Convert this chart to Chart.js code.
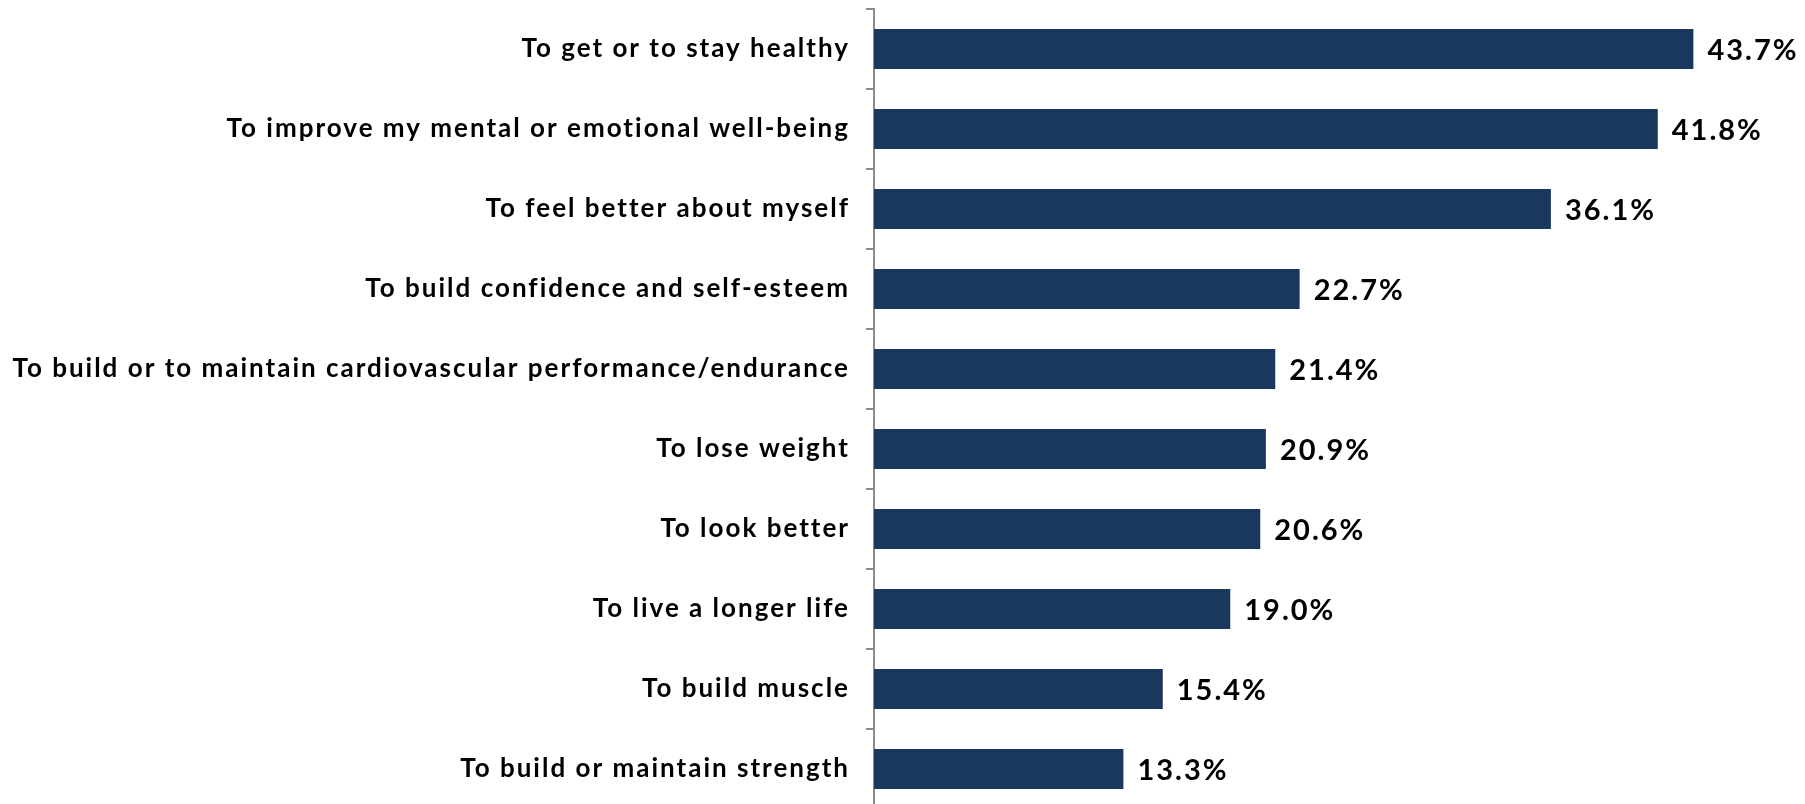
<!DOCTYPE html>
<html>
<head>
<meta charset="utf-8">
<script src="https://cdn.jsdelivr.net/npm/chart.js@4.4.1/dist/chart.umd.min.js"></script>
<style>
  html, body { margin: 0; padding: 0; background: #fff; overflow: hidden; }
  #wrap { width: 1805px; height: 812px; }
</style>
</head>
<body>
<div id="wrap"><canvas id="chart" width="1805" height="812"></canvas></div>
<script>
const reasons = [
  'To get or to stay healthy',
  'To improve my mental or emotional well-being',
  'To feel better about myself',
  'To build confidence and self-esteem',
  'To build or to maintain cardiovascular performance/endurance',
  'To lose weight',
  'To look better',
  'To live a longer life',
  'To build muscle',
  'To build or maintain strength'
];
const shares = [43.7, 41.8, 36.1, 22.7, 21.4, 20.9, 20.6, 19.0, 15.4, 13.3];

const labelFont = 'Lato, "DejaVu Sans", sans-serif';

// a bit of tracking on all text, the labels are set wide
const spacing = {
  id: 'spacing',
  beforeDraw(chart) { chart.ctx.letterSpacing = '2px'; },
  afterDraw(chart) { chart.ctx.letterSpacing = '0px'; }
};

// percentage text just past the end of each bar
const valueLabels = {
  id: 'valueLabels',
  afterDatasetsDraw(chart) {
    const ctx = chart.ctx;
    const meta = chart.getDatasetMeta(0);
    ctx.save();
    ctx.font = 'bold 29px ' + labelFont;
    ctx.letterSpacing = '2px';
    ctx.fillStyle = '#000';
    ctx.textAlign = 'left';
    ctx.textBaseline = 'middle';
    meta.data.forEach((bar, i) => {
      ctx.fillText(shares[i].toFixed(1) + '%', bar.x + 14, bar.y + 2);
    });
    ctx.restore();
  }
};

const ctx = document.getElementById('chart');

new Chart(ctx, {
  type: 'bar',
  data: {
    labels: reasons,
    datasets: [{
      data: shares,
      backgroundColor: '#1a375e',
      borderWidth: 0,
      barPercentage: 0.5,
      categoryPercentage: 1.0
    }]
  },
  options: {
    indexAxis: 'y',
    responsive: false,
    animation: false,
    layout: { padding: { top: 9, bottom: 3, right: 31, left: 0 } },
    plugins: {
      legend: { display: false },
      tooltip: { enabled: false }
    },
    scales: {
      x: {
        display: false,
        min: 0,
        max: 48
      },
      y: {
        afterFit(scale) {
          scale.width = 874;
          scale.paddingTop = 0;
          scale.paddingBottom = 0;
        },
        grid: {
          drawOnChartArea: false,
          drawTicks: true,
          tickLength: 8,
          color: '#8c8c8c',
          lineWidth: 2,
          offset: true
        },
        border: { display: true, color: '#8c8c8c', width: 2 },
        ticks: {
          color: '#000',
          padding: 16,
          autoSkip: false,
          font: { family: labelFont, size: 26, weight: 'bold' }
        }
      }
    }
  },
  plugins: [spacing, valueLabels]
});
</script>
</body>
</html>
